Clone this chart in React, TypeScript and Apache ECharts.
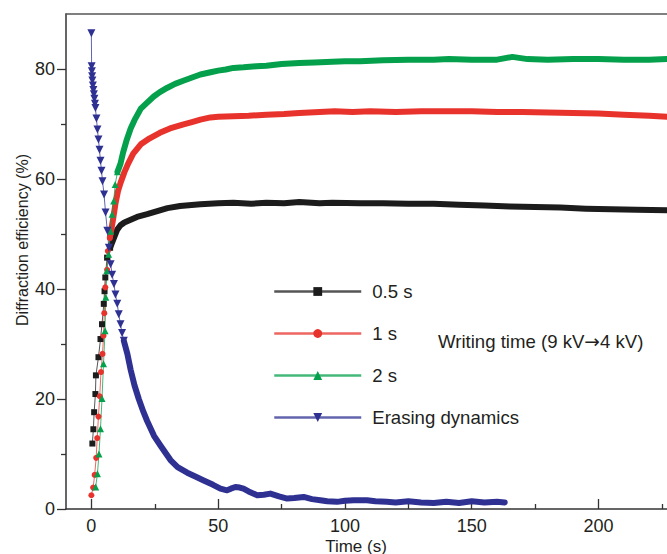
import React, { useEffect, useRef } from "react";
import * as echarts from "echarts";

// ---- data (time in s, diffraction efficiency in %) ----
const xMajorTicks = [0, 50, 100, 150, 200];
const xMinorTicks = [25, 75, 125, 175, 225];
const yMajorTicks = [0, 20, 40, 60, 80];
const yMinorTicks = [10, 30, 50, 70];
const legendNames = ["0.5 s", "1 s", "2 s", "Erasing dynamics"];

// early sampled points (drawn with markers)
const blackMarkers = [
  [0.4, 11.9], [0.8, 14.5], [1.1, 17.6], [1.6, 20.9], [1.8, 24.3], [2.8, 27.6],
  [3.6, 30.9], [4.2, 33.6], [4.9, 37.3], [5.2, 39.6], [5.5, 42.1], [6.2, 45.7], [7.4, 47.5],
];
const blackBand = [
  [7.4, 47.5], [8.9, 49.3], [10.2, 50.8], [11.5, 51.6], [13, 52.1], [15.5, 52.6], [18, 53.1],
  [22, 53.6], [27, 54.3], [30, 54.7], [35, 55.1], [43, 55.4], [50, 55.6], [56, 55.7],
  [63, 55.5], [69, 55.7], [76, 55.6], [82, 55.8], [90, 55.6], [95, 55.7], [106, 55.6],
  [115, 55.6], [125, 55.5], [135, 55.5], [145, 55.3], [155, 55.2], [165, 55.0], [175, 54.9],
  [185, 54.8], [195, 54.6], [205, 54.5], [215, 54.4], [227, 54.3],
];

const redMarkers = [
  [0, 2.5], [0.7, 3.9], [1.3, 6.2], [1.9, 9.3], [2.3, 12.9], [2.8, 16.8], [3.3, 20.5],
  [3.8, 24.9], [4.4, 28.2], [4.8, 31.5], [5.1, 35.6], [5.5, 40.3], [6.2, 43.5], [6.5, 46.9], [7.3, 49.3],
];
const redBand = [
  [7.3, 49.3], [8.5, 52.5], [9.5, 55.5], [10.5, 57.8], [11.5, 59.3], [13, 61.2], [14.5, 62.8],
  [16.5, 64.6], [19.5, 66.3], [23, 67.4], [27, 68.4], [31, 69.2], [36, 69.9], [40, 70.4],
  [43, 70.8], [47, 71.2], [50, 71.3], [56, 71.4], [62, 71.5], [69, 71.7], [76, 71.8],
  [82, 72.0], [90, 72.2], [96, 72.3], [103, 72.2], [110, 72.3], [120, 72.2], [130, 72.3],
  [140, 72.3], [150, 72.3], [160, 72.2], [170, 72.2], [180, 72.1], [190, 72.0], [200, 71.9],
  [210, 71.7], [220, 71.5], [227, 71.3],
];

const greenMarkers = [
  [1.7, 4.0], [2.4, 6.4], [3.0, 10.0], [3.6, 14.6], [4.2, 20.1], [4.8, 26.4], [5.4, 32.4],
  [5.7, 38.5], [6.1, 43.3], [6.8, 46.3], [7.6, 50.5], [8.2, 53.6], [8.8, 56.0], [9.4, 59.0], [10.3, 61.3],
];
const greenBand = [
  [10.3, 61.3], [11.5, 62.8], [12.5, 64.8], [14, 67.2], [15.5, 69.2], [17, 70.7], [19.5, 72.8],
  [22, 73.9], [24.6, 75.0], [27, 75.8], [30, 76.6], [33, 77.3], [36.5, 77.9], [40, 78.5],
  [43, 79.0], [47, 79.4], [50, 79.7], [53, 79.9], [56, 80.2], [60, 80.3], [65, 80.5],
  [69, 80.6], [75, 80.9], [82, 81.1], [88, 81.2], [95, 81.3], [100, 81.4], [106, 81.4],
  [115, 81.6], [125, 81.7], [135, 81.7], [141, 81.8], [150, 81.7], [160, 81.7], [166, 82.2],
  [172, 81.8], [180, 81.7], [190, 81.8], [200, 81.8], [210, 81.7], [220, 81.7], [227, 81.8],
];

const blueMarkers = [
  [0, 86.5], [0.1, 80.5], [0.2, 79.6], [0.3, 78.7], [0.4, 77.9], [0.6, 77.0], [0.8, 76.2],
  [1.0, 75.4], [1.2, 74.6], [1.4, 73.7], [1.6, 72.9], [2.0, 71.0], [2.4, 69.0], [2.8, 67.2],
  [3.2, 65.3], [3.6, 63.3], [4.0, 61.5], [4.4, 59.6], [5.0, 57.2], [5.6, 53.9], [6.3, 50.6],
  [6.9, 47.5], [7.6, 44.5], [8.2, 42.6], [8.9, 40.9], [9.5, 39.0], [10.2, 37.3], [10.8, 35.4],
  [11.5, 33.6], [12.1, 32.0], [12.8, 30.6],
];
const blueBand = [
  [12.8, 30.6], [14.2, 28.2], [15.5, 25.3], [17, 22.5], [18.7, 20.0], [20.5, 17.7], [22, 16.0],
  [24.7, 13.3], [27.3, 11.5], [31.2, 8.9], [34, 7.6], [37.8, 6.6], [41, 5.9], [44.3, 5.2],
  [48, 4.4], [50.9, 3.7], [53.5, 3.4], [55, 3.7], [56.8, 4.0], [58.5, 3.9], [60, 3.7],
  [62, 3.2], [65.4, 2.5], [68, 2.6], [70.6, 2.8], [74, 2.3], [77.2, 1.9], [80, 2.0],
  [83.7, 2.2], [87, 1.8], [90.3, 1.6], [93, 1.4], [96.9, 1.3], [100, 1.5], [103.4, 1.6],
  [108.7, 1.6], [112, 1.4], [116.5, 1.3], [120, 1.2], [125, 1.4], [130, 1.2], [135, 1.1],
  [140, 1.3], [145, 1.1], [150, 1.4], [155, 1.2], [160, 1.3], [163, 1.2],
];

const FONT = '"Liberation Sans", Arial, Helvetica, sans-serif';
const TEXT = "#231f20";
const AXIS = "#333333";
const COLORS = ["#1c1c1c", "#e8332d", "#05a04b", "#2e3192"];
const DOWN_TRI = "path://M0,0 L10,0 L5,9 Z";

function markerSeries(name: string, data: number[][], color: string, symbol: string, size: number) {
  return {
    name,
    type: "line",
    data,
    xAxisIndex: 0,
    yAxisIndex: 0,
    symbol,
    symbolSize: size,
    showSymbol: true,
    color,
    itemStyle: { color },
    lineStyle: { color, width: 1, opacity: 0.75 },
    emphasis: { disabled: true },
  };
}
function bandSeries(name: string, data: number[][], color: string) {
  return {
    name,
    type: "line",
    data,
    xAxisIndex: 0,
    yAxisIndex: 0,
    symbol: "none",
    color,
    lineStyle: { color, width: 6, join: "round", cap: "round" },
    emphasis: { disabled: true },
  };
}

export default function App() {
  const ref = useRef<HTMLDivElement>(null);
  useEffect(() => {
    document.body.style.margin = "0";
    if (!ref.current) return;
    const chart = echarts.init(ref.current, undefined, { renderer: "svg" });
    chart.setOption({
      animation: false,
      backgroundColor: "#ffffff",
      grid: { left: 66, top: 14, right: 0, bottom: 45, containLabel: false },
      xAxis: [
        {
          type: "value", position: "bottom", min: -10, max: 227,
          axisLine: { show: true, onZero: false, lineStyle: { color: AXIS, width: 1.5 } },
          axisTick: { show: true, inside: true, length: 10, customValues: xMajorTicks, lineStyle: { color: AXIS, width: 1.3 } },
          axisLabel: { customValues: xMajorTicks, fontSize: 18, fontFamily: FONT, color: TEXT, margin: 8 },
          splitLine: { show: false },
        },
        {
          type: "value", position: "bottom", min: -10, max: 227,
          axisLine: { show: false, onZero: false },
          axisTick: { show: true, inside: true, length: 5, customValues: xMinorTicks, lineStyle: { color: AXIS, width: 1.3 } },
          axisLabel: { show: false },
          splitLine: { show: false },
        },
        {
          type: "value", position: "top", min: -10, max: 227,
          axisLine: { show: true, onZero: false, lineStyle: { color: "#555", width: 1.5 } },
          axisTick: { show: false },
          axisLabel: { show: false },
          splitLine: { show: false },
        },
      ],
      yAxis: [
        {
          type: "value", position: "left", min: 0, max: 90,
          axisLine: { show: true, onZero: false, lineStyle: { color: AXIS, width: 1.5 } },
          axisTick: { show: true, inside: false, length: 9, customValues: yMajorTicks, lineStyle: { color: AXIS, width: 1.3 } },
          axisLabel: { customValues: yMajorTicks, fontSize: 18, fontFamily: FONT, color: TEXT, margin: 11 },
          splitLine: { show: false },
        },
        {
          type: "value", position: "left", min: 0, max: 90,
          axisLine: { show: false, onZero: false },
          axisTick: { show: true, inside: false, length: 5, customValues: yMinorTicks, lineStyle: { color: AXIS, width: 1.3 } },
          axisLabel: { show: false },
          splitLine: { show: false },
        },
      ],
      legend: {
        data: legendNames,
        orient: "vertical",
        left: 273,
        top: 282,
        padding: 0,
        itemWidth: 87,
        itemHeight: 11,
        itemGap: 23,
        lineStyle: { width: 2.5 },
        textStyle: { fontSize: 18.6, fontFamily: FONT, color: TEXT, padding: [0, 0, 0, 6] },
        selectedMode: false,
      },
      graphic: [
        {
          type: "text", x: 356, y: 546,
          style: { text: "Time (s)", font: `17px ${FONT}`, fill: TEXT, align: "center", verticalAlign: "middle" },
        },
        {
          type: "text", x: 22, y: 240, rotation: Math.PI / 2,
          style: { text: "Diffraction efficiency (%)", font: `16px ${FONT}`, fill: TEXT, align: "center", verticalAlign: "middle" },
        },
        {
          type: "text", x: 438, y: 341,
          style: {
            text: "Writing time (9 kV{a|\u2192}4 kV)",
            font: `18.6px ${FONT}`, fill: TEXT, align: "left", verticalAlign: "middle",
            rich: { a: { fontFamily: '"DejaVu Sans"', fontSize: 18.6, fill: TEXT, color: TEXT } },
          },
        },
      ],
      series: [
        markerSeries(legendNames[0], blackMarkers, COLORS[0], "rect", 6),
        bandSeries(legendNames[0], blackBand, COLORS[0]),
        markerSeries(legendNames[1], redMarkers, COLORS[1], "circle", 6),
        bandSeries(legendNames[1], redBand, COLORS[1]),
        markerSeries(legendNames[2], greenMarkers, COLORS[2], "triangle", 7),
        bandSeries(legendNames[2], greenBand, COLORS[2]),
        markerSeries(legendNames[3], blueMarkers, COLORS[3], DOWN_TRI, 8),
        bandSeries(legendNames[3], blueBand, COLORS[3]),
      ],
    });
    return () => chart.dispose();
  }, []);
  return <div ref={ref} style={{ width: 667, height: 554 }} />;
}
